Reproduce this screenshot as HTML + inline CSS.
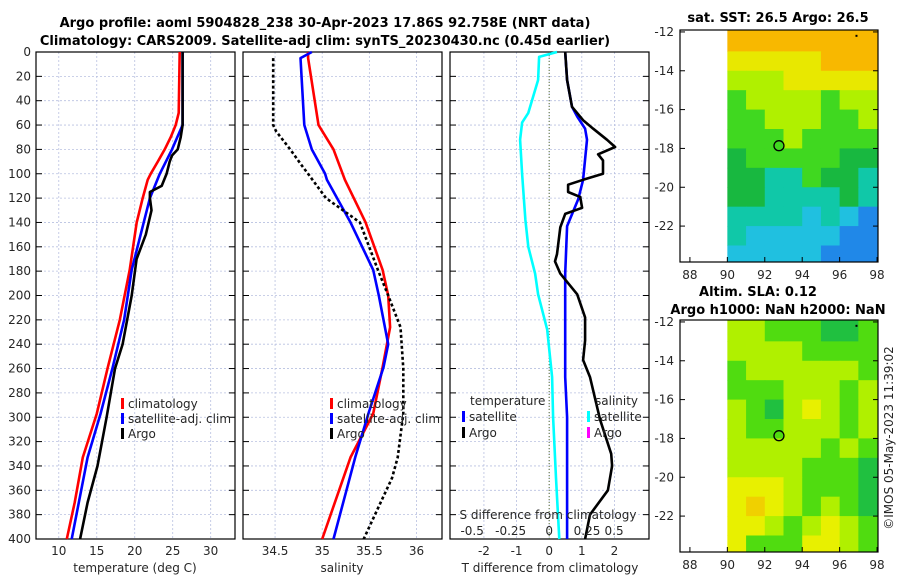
<!DOCTYPE html>
<html><head><meta charset="utf-8">
<style>
html,body{margin:0;padding:0;background:#fff;}
svg{display:block;font-family:"DejaVu Sans","Liberation Sans",sans-serif;}
.t{font-size:12px;fill:#262626;}
.b{font-size:13px;font-weight:bold;fill:#000;}
</style></head>
<body>
<svg id="fig" width="900" height="580" viewBox="0 0 900 580" xmlns="http://www.w3.org/2000/svg">
<text class="b" x="325" y="27" text-anchor="middle">Argo profile: aoml 5904828_238 30-Apr-2023 17.86S 92.758E (NRT data)</text>
<text class="b" x="325" y="45" text-anchor="middle">Climatology: CARS2009. Satellite-adj clim: synTS_20230430.nc (0.45d earlier)</text>
<g id="layer"></g>
</svg>
<script>
// ---- depth axis ----
const depthTicks = [0,20,40,60,80,100,120,140,160,180,200,220,240,260,280,300,320,340,360,380,400];
// ---- panel 1: temperature ----
const tTicks = [10,15,20,25,30];
const tClimD = [0,50,60,70,80,90,100,105,120,140,179,220,259,297,333,370,400];
const tClimV = [25.92,25.79,25.39,24.74,23.95,23.03,22.1,21.7,21.05,20.26,19.34,18.03,16.45,15.0,13.16,12.1,11.05];
const tSatD = [0,60,80,100,120,179,220,259,297,333,400];
const tSatV = [26.3,26.3,24.9,23.3,22.0,19.6,18.6,17.1,15.5,13.8,11.7];
const tArgoD = [0,60,70,80,85,90,100,110,115,120,130,150,170,200,240,260,300,340,370,400];
const tArgoV = [26.3,26.3,26.05,25.65,24.9,24.6,24.2,23.55,22.0,22.0,22.2,21.45,20.25,19.6,18.4,17.4,16.3,15.1,13.8,12.8];
// ---- panel 2: salinity ----
const sTicks = [34.5,35,35.5,36];
const sClimD = [0,5,60,80,105,140,179,200,226,259,297,333,400];
const sClimV = [34.85,34.85,34.96,35.12,35.24,35.46,35.64,35.70,35.72,35.64,35.54,35.30,35.0];
const sSatD = [0,5,60,80,100,105,140,179,200,240,259,297,333,400];
const sSatV = [34.89,34.77,34.81,34.89,35.03,35.05,35.30,35.54,35.60,35.70,35.65,35.49,35.35,35.12];
const sArgoD = [5,60,65,80,95,100,120,140,179,200,226,260,297,333,350,380,400];
const sArgoV = [34.48,34.48,34.51,34.66,34.80,34.85,35.04,35.40,35.59,35.70,35.83,35.86,35.86,35.80,35.74,35.56,35.44];
// ---- panel 3: differences (T units) ----
const dTicks = [-2,-1,0,1,2];
const dSTickLabels = ["-0.5","-0.25","0","0.25","0.5"];
const dSTickPos = [-2.36,-1.18,0,1.16,1.99];
const dSSatD = [0,4,23,50,58,72,100,138,160,182,199,228,267,300,350,400];
const dSSatV = [0.24,-0.31,-0.34,-0.64,-0.83,-0.89,-0.83,-0.73,-0.64,-0.43,-0.34,-0.06,0.09,0.12,0.21,0.31];
const dTSatD = [0,23,45,53,63,72,105,121,143,182,199,267,300,400];
const dTSatV = [0.49,0.55,0.70,0.86,1.10,1.16,1.04,0.89,0.55,0.49,0.49,0.49,0.55,0.55];
const dTArgoD = [0,23,45,56,63,72,78,84,89,100,105,109,115,119,128,133,144,166,172,182,199,218,237,253,267,302,330,340,360,380,400];
const dTArgoV = [0.49,0.55,0.70,1.04,1.35,1.77,2.02,1.50,1.65,1.65,1.04,0.58,0.58,0.95,1.01,0.49,0.34,0.24,0.18,0.34,0.86,1.10,1.10,1.04,1.25,1.56,1.90,1.93,1.80,1.25,1.10];
// ---- maps ----
const lonTicks = [88,90,92,94,96,98];
const latTicks = [-12,-14,-16,-18,-20,-22];
const sstRows = ["OOOOOOOO","YYYYYOOO","LLLYYYYY","GLLLLGLL","GGLLLGGL","GGGLGGGG","DGGGGGDD","DDTTGDDT","DDTTTTDT","TTTTCTCB","TCCCCCBB","CCCCCBBB"];
const slaRows = ["LLGGGDDG","LLLLGGGG","GLLLLLLG","GGGLLLGL","LGDLYLGL","LGGLLLGL","LLLLLGLG","LLLLGGGD","YYYLGGGD","YOYLGLGD","YYLGLYLG","YGGGYYLG"];
const argoLon = 92.758, argoLat = -17.86;

const NS="http://www.w3.org/2000/svg";
const layer=document.getElementById('layer');
function mk(tag,attrs,parent){const e=document.createElementNS(NS,tag);for(const k in attrs)e.setAttribute(k,attrs[k]);(parent||layer).appendChild(e);return e;}
const Y0=52,Y1=539;
const yD=d=>Y0+(d/400)*(Y1-Y0);

function panel(name,x0,x1,xmin,xmax,ticks,labels){
  const g=mk('g',{});
  
  
  const xs=v=>x0+(v-xmin)/(xmax-xmin)*(x1-x0);
  ticks.forEach(v=>{const l=mk('line',{x1:xs(v),x2:xs(v),y1:Y0,y2:Y1,stroke:'#b8c0e0','stroke-width':0.8,'stroke-dasharray':'2,2'},g);
    });
  depthTicks.forEach(d=>{const l=mk('line',{x1:x0,x2:x1,y1:yD(d),y2:yD(d),stroke:'#b8c0e0','stroke-width':0.8,'stroke-dasharray':'2,2'},g);
    
    mk('line',{x1:x0,x2:x0+6,y1:yD(d),y2:yD(d),stroke:'#000'},g);
    mk('line',{x1:x1-6,x2:x1,y1:yD(d),y2:yD(d),stroke:'#000'},g);});
  const r=mk('rect',{x:x0,y:Y0,width:x1-x0,height:Y1-Y0,fill:'none',stroke:'#000','stroke-width':1.2},g);
  
  ticks.forEach((v,i)=>{const t=mk('text',{x:xs(v),y:555,'text-anchor':'middle',class:'t'},g);t.textContent=labels?labels[i]:String(v);
    });
  return {g,xs};
}
function line(p,D,V,color,name,dash){
  const pts=D.map((d,i)=>p.xs(V[i]).toFixed(1)+','+yD(d).toFixed(1)).join(' ');
  const a={points:pts,fill:'none',stroke:color,'stroke-width':2.6,'stroke-linejoin':'round'};
  if(dash)a['stroke-dasharray']=dash;
  const e=mk('polyline',a,p.g);
  
  
}
function txt(s,x,y,cls,anchor,name,parent){const t=mk('text',{x:x,y:y,class:cls,'text-anchor':anchor||'start'},parent);t.textContent=s;
  return t;}
function legItem(x,y,color,label,name){
  const r=mk('rect',{x:x,y:y-10,width:3,height:11,fill:color});
  
  txt(label,x+7,y,'t','start',name);
}

// depth labels
depthTicks.forEach(d=>txt(String(d),31,yD(d)+4,'t','end','y-tick-label'));

// panel 1
const p1=panel('temperature-panel',36,235,7,33.2,tTicks);
line(p1,tClimD,tClimV,'#f00','temp-climatology-line');
line(p1,tSatD,tSatV,'#00f','temp-satellite-line');
line(p1,tArgoD,tArgoV,'#000','temp-argo-line');
txt('temperature (deg C)',135,572,'t','middle','x-axis-title-temperature');
legItem(121,408,'#f00','climatology','legend-climatology');
legItem(121,423,'#00f','satellite-adj. clim','legend-satellite');
legItem(121,438,'#000','Argo','legend-argo');

// panel 2
const p2=panel('salinity-panel',243,442,34.16,36.27,sTicks);
line(p2,sClimD,sClimV,'#f00','sal-climatology-line');
line(p2,sSatD,sSatV,'#00f','sal-satellite-line');
line(p2,sArgoD,sArgoV,'#000','sal-argo-line','3,2.5');
txt('salinity',342,572,'t','middle','x-axis-title-salinity');
legItem(330,408,'#f00','climatology','legend-climatology-2');
legItem(330,423,'#00f','satellite-adj. clim','legend-satellite-2');
legItem(330,438,'#000','Argo','legend-argo-2');

// panel 3
const p3=panel('difference-panel',450,649,-3.04,3.06,dTicks);
const z=mk('line',{x1:p3.xs(0),x2:p3.xs(0),y1:Y0,y2:Y1,stroke:'#556b2f','stroke-width':1,'stroke-dasharray':'1,2'},p3.g);

line(p3,dSSatD,dSSatV,'#0ff','sal-diff-satellite-line');
line(p3,dTSatD,dTSatV,'#00f','temp-diff-satellite-line');
line(p3,dTArgoD,dTArgoV,'#000','temp-diff-argo-line');
txt('T difference from climatology',550,572,'t','middle','x-axis-title-tdiff');
txt('S difference from climatology',548,519,'t','middle','s-axis-title');
dSTickLabels.forEach((s,i)=>txt(s,p3.xs(dSTickPos[i]),535,'t','middle','s-tick-label'));
txt('temperature',470,405,'t','start','legend-title-temperature');
legItem(462,421,'#00f','satellite','legend-temp-satellite');
legItem(462,437,'#000','Argo','legend-temp-argo');
txt('salinity',595,405,'t','start','legend-title-salinity');
legItem(587,421,'#0ff','satellite','legend-sal-satellite');
legItem(587,437,'#f0f','Argo','legend-sal-argo');

// maps
const colors={O:'#f8b800',Y:'#e8e800',L:'#b0f000',G:'#40d820',D:'#18b840',T:'#10c8a8',C:'#20c0e0',B:'#2088e8'};
const colorsSla={O:'#f0d000',Y:'#e8f000',L:'#b0f000',G:'#50dc10',D:'#20c040'};
function map(name,top,bot,rows,cmap){
  const X0=680,X1=878,lonMin=87.47,lonMax=98.05,latTop=-11.9,latBot=-23.85;
  const xs=v=>X0+(v-lonMin)/(lonMax-lonMin)*(X1-X0);
  const ys=v=>top+(latTop-v)/(latTop-latBot)*(bot-top);
  const g=mk('g',{});
  
  rows.forEach((row,ri)=>{[...row].forEach((c,ci)=>{
    const la=-12-ri, lo=90+ci;
    const yTop=ri===0?top:ys(la);
    const yB=ri===rows.length-1?bot:ys(la-1);
    const r=mk('rect',{x:xs(lo),y:yTop,width:xs(lo+1)-xs(lo)+0.5,height:yB-yTop+0.5,fill:cmap[c]},g);
    });});
  const f=mk('rect',{x:X0,y:top,width:X1-X0,height:bot-top,fill:'none',stroke:'#000','stroke-width':1.2},g);
  
  lonTicks.forEach(v=>{mk('line',{x1:xs(v),x2:xs(v),y1:bot,y2:bot-5,stroke:'#000'},g);
    txt(String(v),xs(v),bot+17,'t','middle','lon-tick-label',g);});
  latTicks.forEach(v=>{mk('line',{x1:X0,x2:X0+5,y1:ys(v),y2:ys(v),stroke:'#000'},g);mk('line',{x1:X1,x2:X1-5,y1:ys(v),y2:ys(v),stroke:'#000'},g);
    txt(String(v),X0-6,ys(v)+4,'t','end','lat-tick-label',g);});
  const c=mk('circle',{cx:xs(argoLon),cy:ys(argoLat),r:5,fill:'none',stroke:'#000','stroke-width':1.3},g);
  
  mk('rect',{x:xs(96.9)-1,y:ys(-12.2)-1,width:2,height:2,fill:'#000'},g);
}
map('sst-map',30,262,sstRows,colors);
map('sla-map',320,552,slaRows,colorsSla);
txt('sat. SST: 26.5 Argo: 26.5',778,22,'b','middle','sst-map-title');
txt('Altim. SLA: 0.12',758,296,'b','middle','sla-map-title-1');
txt('Argo h1000: NaN h2000: NaN',778,314,'b','middle','sla-map-title-2');
const cr=txt('©IMOS 05-May-2023 11:39:02',0,0,'t','middle','timestamp');
cr.setAttribute('transform','translate(893,438) rotate(-90)');
</script>
</body></html>
